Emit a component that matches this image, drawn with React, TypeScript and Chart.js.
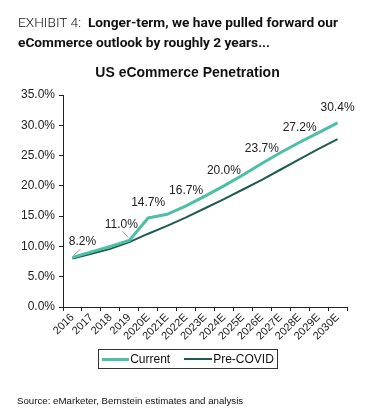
import React, { useEffect, useRef } from "react";
import { Chart, registerables } from "chart.js";

Chart.register(...registerables);

const categories = ["2016", "2017", "2018", "2019", "2020E", "2021E", "2022E", "2023E", "2024E", "2025E", "2026E", "2027E", "2028E", "2029E", "2030E"];
const currentValues = [8.2, 9.1, 10.0, 11.0, 14.7, 15.3, 16.7, 18.3, 20.0, 21.8, 23.7, 25.5, 27.2, 28.8, 30.4];
const preCovidValues = [8.0, 8.8, 9.6, 10.7, 12.1, 13.4, 14.8, 16.3, 17.8, 19.4, 21.0, 22.7, 24.4, 26.1, 27.7];
const labeledIndices = [0, 3, 4, 6, 8, 10, 12, 14];
const yTicks = [0, 5, 10, 15, 20, 25, 30, 35];

const CURRENT_COLOR = "#4dbfa6";
const PRE_COLOR = "#1f5c50";
const FONT = "'Liberation Sans', Arial, sans-serif";

const labelPlugin = {
  id: "valueLabels",
  afterDatasetsDraw(chart: any) {
    const ctx = chart.ctx;
    const meta = chart.getDatasetMeta(0);
    ctx.save();
    ctx.font = `12px ${FONT}`;
    ctx.fillStyle = "#222";
    ctx.textAlign = "center";
    ctx.textBaseline = "middle";
    labeledIndices.forEach((i) => {
      const pt = meta.data[i];
      const txt = currentValues[i].toFixed(1) + "%";
      if (i === 0) {
        ctx.strokeStyle = "#999";
        ctx.lineWidth = 1;
        ctx.beginPath();
        ctx.moveTo(pt.x + 1, pt.y - 2);
        ctx.lineTo(pt.x + 8, pt.y - 8);
        ctx.stroke();
        ctx.fillText(txt, pt.x + 10, pt.y - 16);
      } else if (i === 3) {
        ctx.strokeStyle = "#999";
        ctx.lineWidth = 1;
        ctx.beginPath();
        ctx.moveTo(pt.x - 1, pt.y - 3);
        ctx.lineTo(pt.x - 7, pt.y - 9);
        ctx.stroke();
        ctx.fillText(txt, pt.x - 8, pt.y - 16);
      } else {
        ctx.fillText(txt, pt.x, pt.y - 15);
      }
    });
    ctx.restore();
  },
};

function ChartCanvas() {
  const ref = useRef<HTMLCanvasElement | null>(null);
  useEffect(() => {
    document.body.style.margin = "0";
    const chart = new Chart(ref.current as HTMLCanvasElement, {
      type: "line",
      data: {
        labels: categories,
        datasets: [
          {
            label: "Current",
            data: currentValues,
            borderColor: CURRENT_COLOR,
            backgroundColor: CURRENT_COLOR,
            borderWidth: 3,
            pointRadius: 0,
            tension: 0,
          },
          {
            label: "Pre-COVID",
            data: preCovidValues,
            borderColor: PRE_COLOR,
            backgroundColor: PRE_COLOR,
            borderWidth: 2,
            pointRadius: 0,
            tension: 0,
          },
        ],
      },
      options: {
        animation: false,
        responsive: false,
        layout: { padding: { left: 0, right: 20, top: 95, bottom: 70 } },
        plugins: {
          legend: { display: false },
          title: { display: false },
          tooltip: { enabled: false },
        },
        scales: {
          x: {
            offset: true,
            afterFit(scale: any) {
              scale.height = 40;
            },
            grid: {
              display: true,
              offset: true,
              drawOnChartArea: false,
              drawTicks: true,
              tickLength: 4,
              color: "#222",
            },
            border: { display: true, color: "#222", width: 1 },
            ticks: {
              autoSkip: false,
              maxRotation: 45,
              minRotation: 45,
              padding: 0,
              color: "#222",
              font: { family: FONT, size: 11 },
            },
          },
          y: {
            min: 0,
            max: 35,
            afterFit(scale: any) {
              scale.width = 63;
            },
            afterBuildTicks(scale: any) {
              scale.ticks = yTicks.map((v) => ({ value: v }));
            },
            grid: {
              display: true,
              drawOnChartArea: false,
              drawTicks: true,
              tickLength: 4,
              color: "#222",
            },
            border: { display: true, color: "#222", width: 1 },
            ticks: {
              padding: 4,
              color: "#222",
              font: { family: FONT, size: 12 },
              callback: (v: any) => Number(v).toFixed(1) + "%",
            },
          },
        },
      },
      plugins: [labelPlugin],
    });
    return () => chart.destroy();
  }, []);
  return <canvas ref={ref} width={367} height={417} style={{ position: "absolute", left: 0, top: 0 }} />;
}

export default function App() {
  return (
    <div style={{ position: "relative", width: 367, height: 417, background: "#fff", overflow: "hidden" }}>
      <ChartCanvas />
      <div
        style={{
          position: "absolute",
          left: 18,
          top: 12,
          width: 345,
          fontFamily: "Roboto, sans-serif",
          fontSize: 13.7,
          lineHeight: "20px",
          color: "#111",
        }}
      >
        <span style={{ fontWeight: 300 }}>EXHIBIT 4:</span>{"\u00a0 "}
        <span style={{ fontWeight: 700 }}>Longer-term, we have pulled forward our eCommerce outlook by roughly 2 years...</span>
      </div>
      <div
        style={{
          position: "absolute",
          left: 0,
          width: 367,
          top: 64,
          textAlign: "center",
          fontFamily: FONT,
          fontWeight: 700,
          fontSize: 14,
          paddingLeft: 8,
          boxSizing: "border-box",
          color: "#111",
        }}
      >
        US eCommerce Penetration
      </div>
      <div
        style={{
          position: "absolute",
          left: 98,
          top: 349,
          width: 180,
          height: 20,
          border: "1px solid #333",
          boxSizing: "border-box",
          display: "flex",
          alignItems: "center",
          justifyContent: "center",
          fontFamily: FONT,
          fontSize: 12,
          color: "#111",
        }}
      >
        <span style={{ display: "inline-block", width: 27, height: 3, background: CURRENT_COLOR }} />
        <span style={{ marginLeft: 1, marginRight: 14 }}>Current</span>
        <span style={{ display: "inline-block", width: 28, height: 2, background: PRE_COLOR }} />
        <span style={{ marginLeft: 1 }}>Pre-COVID</span>
      </div>
      <div
        style={{
          position: "absolute",
          left: 17,
          top: 395,
          fontFamily: FONT,
          fontSize: 9.7,
          color: "#111",
        }}
      >
        Source: eMarketer, Bernstein estimates and analysis
      </div>
    </div>
  );
}
